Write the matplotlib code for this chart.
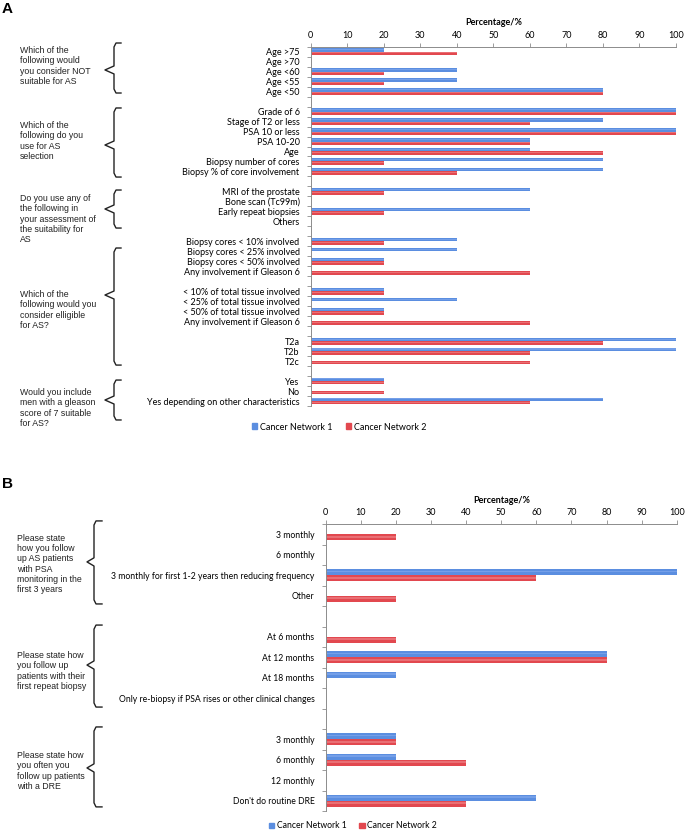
import matplotlib
matplotlib.use("Agg")
import matplotlib.pyplot as plt
import matplotlib.transforms as mtransforms
from matplotlib.patches import Patch
import numpy as np

W, H = 685, 832

# ---- data, panel A (blank strings are spacer rows)
a_labels = ["Age >75", "Age >70", "Age <60", "Age <55", "Age <50", "",
            "Grade of 6", "Stage of T2 or less", "PSA 10 or less", "PSA 10-20", "Age",
            "Biopsy number of cores", "Biopsy % of core involvement", "",
            "MRI of the prostate", "Bone scan (Tc99m)", "Early repeat biopsies", "Others", "",
            "Biopsy cores < 10% involved", "Biopsy cores < 25% involved",
            "Biopsy cores < 50% involved", "Any involvement if Gleason 6", "",
            "< 10% of total tissue involved", "< 25% of total tissue involved",
            "< 50% of total tissue involved", "Any involvement if Gleason 6", "",
            "T2a", "T2b", "T2c", "",
            "Yes", "No", "Yes depending on other characteristics"]
a_net1 = [20, 0, 40, 40, 80, 0,
          100, 80, 100, 60, 60, 80, 80, 0,
          60, 0, 60, 0, 0,
          40, 40, 20, 0, 0,
          20, 40, 20, 0, 0,
          100, 100, 0, 0,
          20, 0, 80]
a_net2 = [40, 0, 20, 20, 80, 0,
          100, 60, 100, 60, 80, 20, 40, 0,
          20, 0, 20, 0, 0,
          20, 0, 20, 60, 0,
          20, 0, 20, 60, 0,
          80, 60, 60, 0,
          20, 20, 60]
a_questions = ["Which of the\nfollowing would\nyou consider NOT\nsuitable for AS",
               "Which of the\nfollowing do you\nuse for AS\nselection",
               "Do you use any of\nthe following in\nyour assessment of\nthe suitability for\nAS",
               "Which of the\nfollowing would you\nconsider elligible\nfor AS?",
               "Would you include\nmen with a gleason\nscore of 7 suitable\nfor AS?"]

# ---- data, panel B
b_labels = ["3 monthly", "6 monthly", "3 monthly for first 1-2 years then reducing frequency",
            "Other", "",
            "At 6 months", "At 12 months", "At 18 months",
            "Only re-biopsy if PSA rises or other clinical changes", "",
            "3 monthly", "6 monthly", "12 monthly", "Don't do routine DRE"]
b_net1 = [0, 0, 100, 0, 0, 0, 80, 20, 0, 0, 20, 20, 0, 60]
b_net2 = [20, 0, 60, 20, 0, 20, 80, 0, 0, 0, 20, 40, 0, 40]
b_questions = ["Please state\nhow you follow\nup AS patients\nwith PSA\nmonitoring in the\nfirst 3 years",
               "Please state how\nyou follow up\npatients with their\nfirst repeat biopsy",
               "Please state how\nyou often you\nfollow up patients\nwith a DRE"]

series_names = ["Cancer Network 1", "Cancer Network 2"]
BLUE, RED = "#5b8ee0", "#e2484f"
BLUE_HI, RED_HI = "#86acee", "#ee8a8e"
GREY = "#8c8c8c"
LABEL_FONT = "Lato"
Q_FONT = "Liberation Sans"


def px(x, y):
    # pixel position -> figure fraction
    return x / W, 1 - y / H


def bar_panel(ax, labels, v1, v2, h, fs):
    y = np.arange(len(labels))
    for vals, col, hi, off in ((v1, BLUE, BLUE_HI, -h / 2), (v2, RED, RED_HI, h / 2)):
        ax.barh(y + off, vals, height=h, color=col, linewidth=0)
        ax.barh(y + off - h * 0.12, vals, height=h * 0.3, color=hi, linewidth=0, alpha=0.6)
    ax.set_ylim(len(labels) - 0.5, -0.5)
    ax.set_xlim(0, 100)
    ax.set_yticks(y)
    ax.set_yticklabels(labels, fontsize=fs, family=LABEL_FONT)
    ax.set_yticks(np.arange(len(labels) + 1) - 0.5, minor=True)
    ax.tick_params(axis="y", which="major", length=0, pad=8)
    ax.tick_params(axis="y", which="minor", length=3, color=GREY, width=0.6)
    ax.xaxis.tick_top()
    ax.xaxis.set_label_position("top")
    ax.set_xticks(np.arange(0, 101, 10))
    ax.tick_params(axis="x", length=3, color=GREY, width=0.6, labelsize=6.5, pad=2)
    for t in ax.get_xticklabels():
        t.set_family(LABEL_FONT)
    ax.set_xlabel("Percentage/%", fontsize=6.5, fontweight="bold", family=LABEL_FONT, labelpad=4)
    for s in ("right", "bottom"):
        ax.spines[s].set_visible(False)
    for s in ("left", "top"):
        ax.spines[s].set_color(GREY)
        ax.spines[s].set_linewidth(0.7)


def brace(fig, ax, x_pt, x_v, x_hook, top, mid, bot, r):
    tr = mtransforms.blended_transform_factory(fig.transFigure, ax.transData)
    xs = np.array([x_hook, x_v + 2, x_v, x_v, x_pt, x_v, x_v, x_v + 2, x_hook]) / W
    ys = [top, top, top + r, mid - r, mid, mid + r, bot - r, bot, bot]
    ax.plot(xs, ys, transform=tr, color="#222222", lw=1.0, clip_on=False,
            solid_joinstyle="round")


fig = plt.figure(figsize=(W / 100, H / 100), dpi=100)

# panel A
l, t = px(310.7, 46.7)
r_, b = px(676, 406)
axA = fig.add_axes([l, b, r_ - l, t - b])
bar_panel(axA, a_labels, a_net1, a_net2, 0.34, 6.5)

# panel B
l, t = px(325.7, 524)
r_, b = px(676.7, 811)
axB = fig.add_axes([l, b, r_ - l, t - b])
bar_panel(axB, b_labels, b_net1, b_net2, 0.3, 6.2)

# braces (top, tip, bottom in category units)
for top, mid, bot in [(-0.87, 1.83, 4.14), (5.64, 9.35, 12.56), (13.86, 15.76, 17.67),
                      (19.67, 24.38, 31.4), (32.9, 34.9, 36.9)]:
    brace(fig, axA, 105, 114, 121, top, mid, bot, 0.4)
for top, mid, bot in [(-0.65, 1.35, 3.4), (4.43, 6.38, 8.43), (9.4, 11.4, 13.3)]:
    brace(fig, axB, 87, 94, 102, top, mid, bot, 0.2)

# question texts
for q, yc in zip(a_questions, [66, 141, 219, 310, 408]):
    fig.text(*px(20, yc), q, fontsize=6.3, family=Q_FONT, va="center", ha="left",
             linespacing=1.15, color="#222222")
for q, yc in zip(b_questions, [564, 671, 771]):
    fig.text(*px(17, yc), q, fontsize=6.3, family=Q_FONT, va="center", ha="left",
             linespacing=1.15, color="#222222")

# panel letters
fig.text(*px(2, 9), "A", fontsize=11, fontweight="bold", family=Q_FONT, va="center")
fig.text(*px(2, 484), "B", fontsize=11, fontweight="bold", family=Q_FONT, va="center")

# legends
handles = [Patch(color=BLUE), Patch(color=RED)]
for (cx, cy), fs in [((339, 427), 6.5), ((353, 826), 6.2)]:
    fig.legend(handles, series_names, loc="center", bbox_to_anchor=px(cx, cy), ncol=2,
               frameon=False, handlelength=0.6, handleheight=0.6, handletextpad=0.3,
               columnspacing=1.5, prop={"family": LABEL_FONT, "size": fs})

fig.savefig("out.png", dpi=100)
